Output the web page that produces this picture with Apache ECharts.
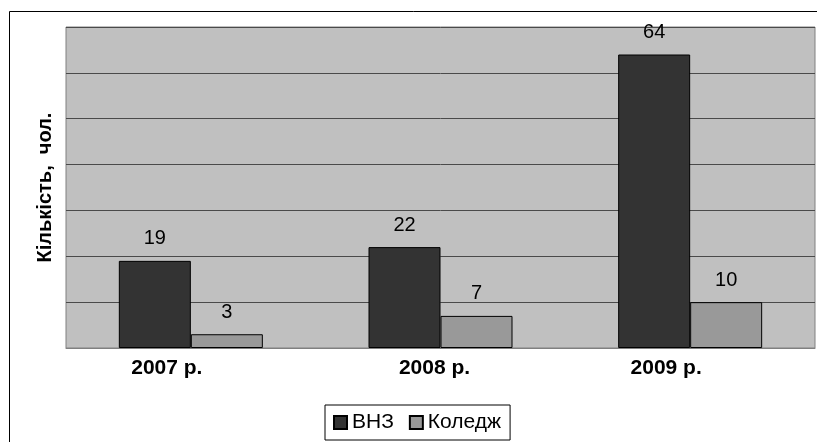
<!DOCTYPE html>
<html>
<head>
<meta charset="utf-8">
<script src="https://cdn.jsdelivr.net/npm/echarts@6/dist/echarts.min.js"></script>
<style>
  html, body { margin: 0; padding: 0; background: #fff; }
  #chart { width: 817px; height: 442px; }
</style>
</head>
<body>
<div id="chart"></div>
<script>
// категорії та значення
const years = ["2007 р.", "2008 р.", "2009 р."];
const vnz = [19, 22, 64];
const koledzh = [3, 7, 10];
const seriesNames = ["ВНЗ", "Коледж"];

// підписи категорій у оригіналі трохи зсунуті ліворуч
const labelShift = [48, 12, 48];

const chart = echarts.init(document.getElementById("chart"));

const labelStyle = {
  show: true,
  position: "top",
  distance: 12,
  color: "#000",
  fontFamily: "Liberation Sans, Arial",
  fontSize: 20
};

chart.setOption({
  animation: false,
  graphic: [
    {
      type: "rect",
      shape: { x: 9.5, y: 11.5, width: 830, height: 450 },
      style: { fill: "none", stroke: "#000", lineWidth: 1 }
    }
  ],
  grid: {
    left: 66,
    right: 2,
    top: 27,
    bottom: 94,
    show: true,
    backgroundColor: "#c0c0c0",
    borderColor: "#808080",
    borderWidth: 1
  },
  legend: {
    data: seriesNames,
    icon: "rect",
    left: 325,
    top: 405,
    itemWidth: 13,
    itemHeight: 13,
    itemGap: 15,
    padding: [7, 9, 7, 8],
    borderColor: "#000",
    borderWidth: 1,
    textStyle: {
      fontFamily: "Liberation Sans, Arial",
      fontSize: 21,
      color: "#000"
    }
  },
  xAxis: {
    type: "category",
    data: years.map((y, i) => ({
      value: y,
      textStyle: { padding: [0, labelShift[i], 0, 0] }
    })),
    axisTick: { show: false },
    axisLine: { lineStyle: { color: "#808080" } },
    axisLabel: {
      margin: 10,
      fontFamily: "Liberation Sans, Arial",
      fontWeight: "bold",
      fontSize: 21,
      color: "#000"
    }
  },
  yAxis: {
    type: "value",
    min: 0,
    max: 70,
    interval: 10,
    name: "Кількість,  чол.",
    nameLocation: "middle",
    nameGap: 11,
    nameTextStyle: {
      fontFamily: "Liberation Sans, Arial",
      fontWeight: "bold",
      fontSize: 20,
      color: "#000"
    },
    axisLabel: { show: false },
    axisTick: { show: false },
    axisLine: { show: false },
    splitLine: { lineStyle: { color: "#4a4a4a", width: 1 } }
  },
  series: [
    {
      name: seriesNames[0],
      type: "bar",
      data: vnz,
      barWidth: 72,
      barGap: "0%",
      itemStyle: { color: "#333333", borderColor: "#000", borderWidth: 1 },
      label: labelStyle
    },
    {
      name: seriesNames[1],
      type: "bar",
      data: koledzh,
      barWidth: 72,
      itemStyle: { color: "#999999", borderColor: "#000", borderWidth: 1 },
      label: labelStyle
    }
  ]
});
</script>
</body>
</html>
